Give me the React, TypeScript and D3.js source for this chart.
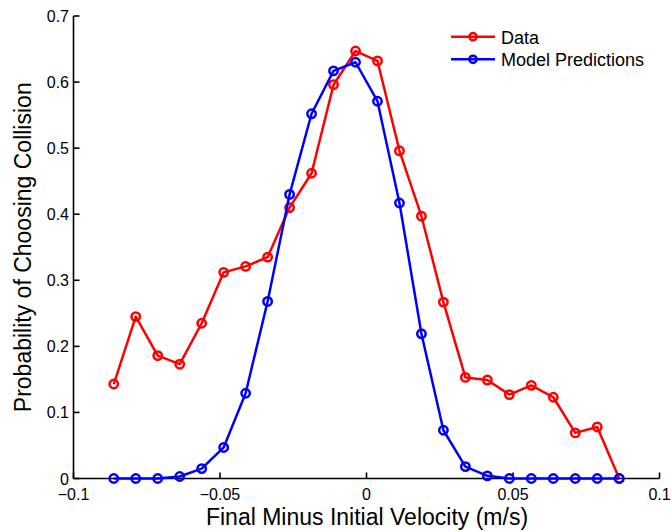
import React from "react";
import * as d3 from "d3";

// bin centres (m/s)
const velocities = [
  -0.08625, -0.07875, -0.07125, -0.06375, -0.05625, -0.04875, -0.04125, -0.03375,
  -0.02625, -0.01875, -0.01125, -0.00375, 0.00375, 0.01125, 0.01875, 0.02625,
  0.03375, 0.04125, 0.04875, 0.05625, 0.06375, 0.07125, 0.07875, 0.08625,
];
const dataValues = [
  0.143, 0.245, 0.186, 0.173, 0.235, 0.312, 0.321, 0.335,
  0.41, 0.462, 0.596, 0.647, 0.632, 0.496, 0.397, 0.267,
  0.153, 0.149, 0.127, 0.141, 0.123, 0.069, 0.078, 0.0,
];
const modelValues = [
  0.0, 0.0, 0.0, 0.003, 0.015, 0.047, 0.129, 0.268,
  0.43, 0.552, 0.617, 0.63, 0.571, 0.417, 0.219, 0.073,
  0.018, 0.004, 0.0, 0.0, 0.0, 0.0, 0.0, 0.0,
];
const xTicks = [-0.1, -0.05, 0, 0.05, 0.1];
const yTicks = [0, 0.1, 0.2, 0.3, 0.4, 0.5, 0.6, 0.7];
const seriesNames = ["Data", "Model Predictions"];
const seriesColors = ["#ff0000", "#0000ff"];

const W = 672;
const H = 532;
const font = "'Liberation Sans', Arial, Helvetica, sans-serif";

const fmtTick = (v: number) => {
  if (v === 0) return "0";
  const s = String(Math.abs(v));
  return (v < 0 ? "\u2212" : "") + s;
};

const App = () => {
  const x = d3.scaleLinear().domain([-0.1, 0.1]).range([73.5, 659.5]);
  const y = d3.scaleLinear().domain([0, 0.7]).range([478.5, 16]);

  const line = d3
    .line<number>()
    .x((_, i) => x(velocities[i]))
    .y((d) => y(d));

  const series = [dataValues, modelValues];
  const tickLen = 6;

  return (
    <svg
      width={W}
      height={H}
      style={{ position: "absolute", left: 0, top: 0, background: "#fff" }}
      fontFamily={font}
    >
      <rect width={W} height={H} fill="#fff" />

      {/* axes */}
      <g stroke="#000" strokeWidth={1.6} fill="none">
        <line x1={x(-0.1)} x2={x(0.1)} y1={y(0)} y2={y(0)} />
        <line x1={x(-0.1)} x2={x(-0.1)} y1={y(0)} y2={y(0.7)} />
        {xTicks.map((t) => (
          <line key={"xt" + t} x1={x(t)} x2={x(t)} y1={y(0)} y2={y(0) - tickLen} />
        ))}
        {yTicks.map((t) => (
          <line key={"yt" + t} x1={x(-0.1)} x2={x(-0.1) + tickLen} y1={y(t)} y2={y(t)} />
        ))}
      </g>

      {xTicks.map((t) => (
        <text key={"xl" + t} x={x(t)} y={500} fontSize={16} textAnchor="middle" fill="#000">
          {fmtTick(t)}
        </text>
      ))}
      {yTicks.map((t) => (
        <text
          key={"yl" + t}
          x={69}
          y={y(t) + 6}
          fontSize={16}
          textAnchor="end"
          fill="#000"
        >
          {fmtTick(t)}
        </text>
      ))}

      <text x={367} y={525} fontSize={23} textAnchor="middle" fill="#000">
        Final Minus Initial Velocity (m/s)
      </text>
      <text
        transform={`translate(30.5,${(y(0) + y(0.7)) / 2}) rotate(-90)`}
        fontSize={23}
        textAnchor="middle"
        fill="#000"
      >
        Probability of Choosing Collision
      </text>

      {/* series */}
      {series.map((vals, si) => (
        <g key={"s" + si} stroke={seriesColors[si]} strokeWidth={2.5} fill="none">
          <path d={line(vals) || ""} strokeLinejoin="round" />
          {vals.map((v, i) => (
            <circle key={i} cx={x(velocities[i])} cy={y(v)} r={4.2} />
          ))}
        </g>
      ))}

      {/* legend */}
      {seriesNames.map((name, i) => {
        const ly = 36.7 + i * 22.6;
        return (
          <g key={"lg" + name}>
            <line x1={451} x2={495} y1={ly} y2={ly} stroke={seriesColors[i]} strokeWidth={2.5} />
            <circle cx={473} cy={ly} r={3.6} stroke={seriesColors[i]} strokeWidth={2.5} fill="none" />
            <text x={501} y={ly + 7} fontSize={18} fill="#000">
              {name}
            </text>
          </g>
        );
      })}
    </svg>
  );
};

export default App;
